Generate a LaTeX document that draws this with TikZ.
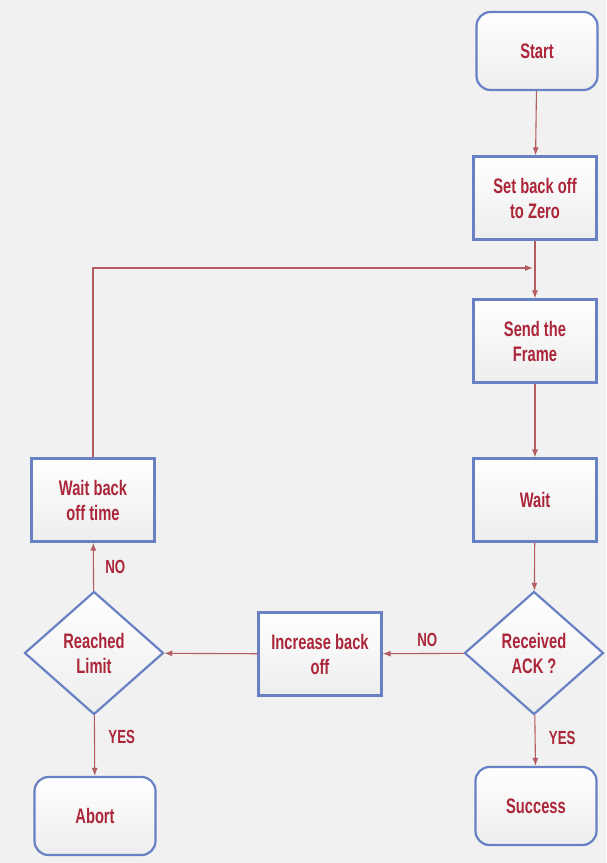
\documentclass[tikz,border=0pt]{standalone}
\usepackage{fontspec}
\newfontfamily\chartfont{Liberation Sans}[FakeStretch=0.70]
\usetikzlibrary{arrows.meta}
\usetikzlibrary{shapes.geometric}
\usetikzlibrary{positioning}
\definecolor{linered}{RGB}{180,92,96}
\definecolor{textred}{RGB}{172,38,58}
\definecolor{boxblue}{RGB}{104,128,196}
\definecolor{backgray}{RGB}{241,241,241}

\begin{document}
\begin{tikzpicture}[
  x=1pt, y=-1pt,
  > = {Latex[length=8pt,width=6pt]},
  every node/.style = {font=\chartfont\bfseries\fontsize{21}{25}\selectfont, text=textred, align=center},
  shaded/.style = {draw=boxblue, line width=2.2pt, top color=white, bottom color=black!7},
  process/.style = {shaded, rectangle, minimum width=123pt, minimum height=83pt, inner sep=2pt},
  terminal/.style = {shaded, rectangle, rounded corners=14pt, minimum width=121pt, minimum height=78pt},
  decision/.style = {shaded, diamond, minimum width=139pt, minimum height=123pt, inner sep=0pt},
  flow/.style = {draw=linered, line width=1.1pt, ->},
  answer/.style = {font=\chartfont\bfseries\fontsize{19}{22}\selectfont}
  ]
	\useasboundingbox[fill=backgray] (0,0) rectangle (606,863);

	\node[terminal] (start) at (537,51) {Start};
	\node[process]  (zero)  at (535,198) {Set back off\\to Zero};
	\node[process]  (send)  at (535,341) {Send the\\Frame};
	\node[process]  (wait)  at (535,500) {Wait};
	\node[decision] (ack)   at (534,653) {Received\\ACK ?};
	\node[terminal] (success) at (536,806) {Success};

	\node[process]  (increase) at (320,654) {Increase back\\off};
	\node[decision] (limit)    at (94,653) {Reached\\Limit};
	\node[process]  (backoff)  at (93,500) {Wait back\\off time};
	\node[terminal] (abort)    at (95,816) {Abort};

	\coordinate (corner) at (backoff.north |- 0,268);
	\coordinate (join) at ([xshift=-2pt]zero.south |- 0,268);

	\draw[flow] (start) -- (zero);
	\draw[flow] (zero) -- (send);
	\draw[flow] (send) -- (wait);
	\draw[flow] (wait) -- (ack);
	\draw[flow] (ack) -- node[answer, above=3pt, pos=0.45] {NO} (increase);
	\draw[flow] (increase) -- (limit);
	\draw[flow] (limit) -- node[answer, right=8pt] {NO} (backoff);
	\draw[flow] (limit) -- node[answer, right=10pt, pos=0.35] {YES} (abort);
	\draw[flow] (ack) -- node[answer, right=10pt, pos=0.45] {YES} (success);
	\draw[flow] (backoff.north) -- (corner) -- (join);

\end{tikzpicture}
\end{document}
